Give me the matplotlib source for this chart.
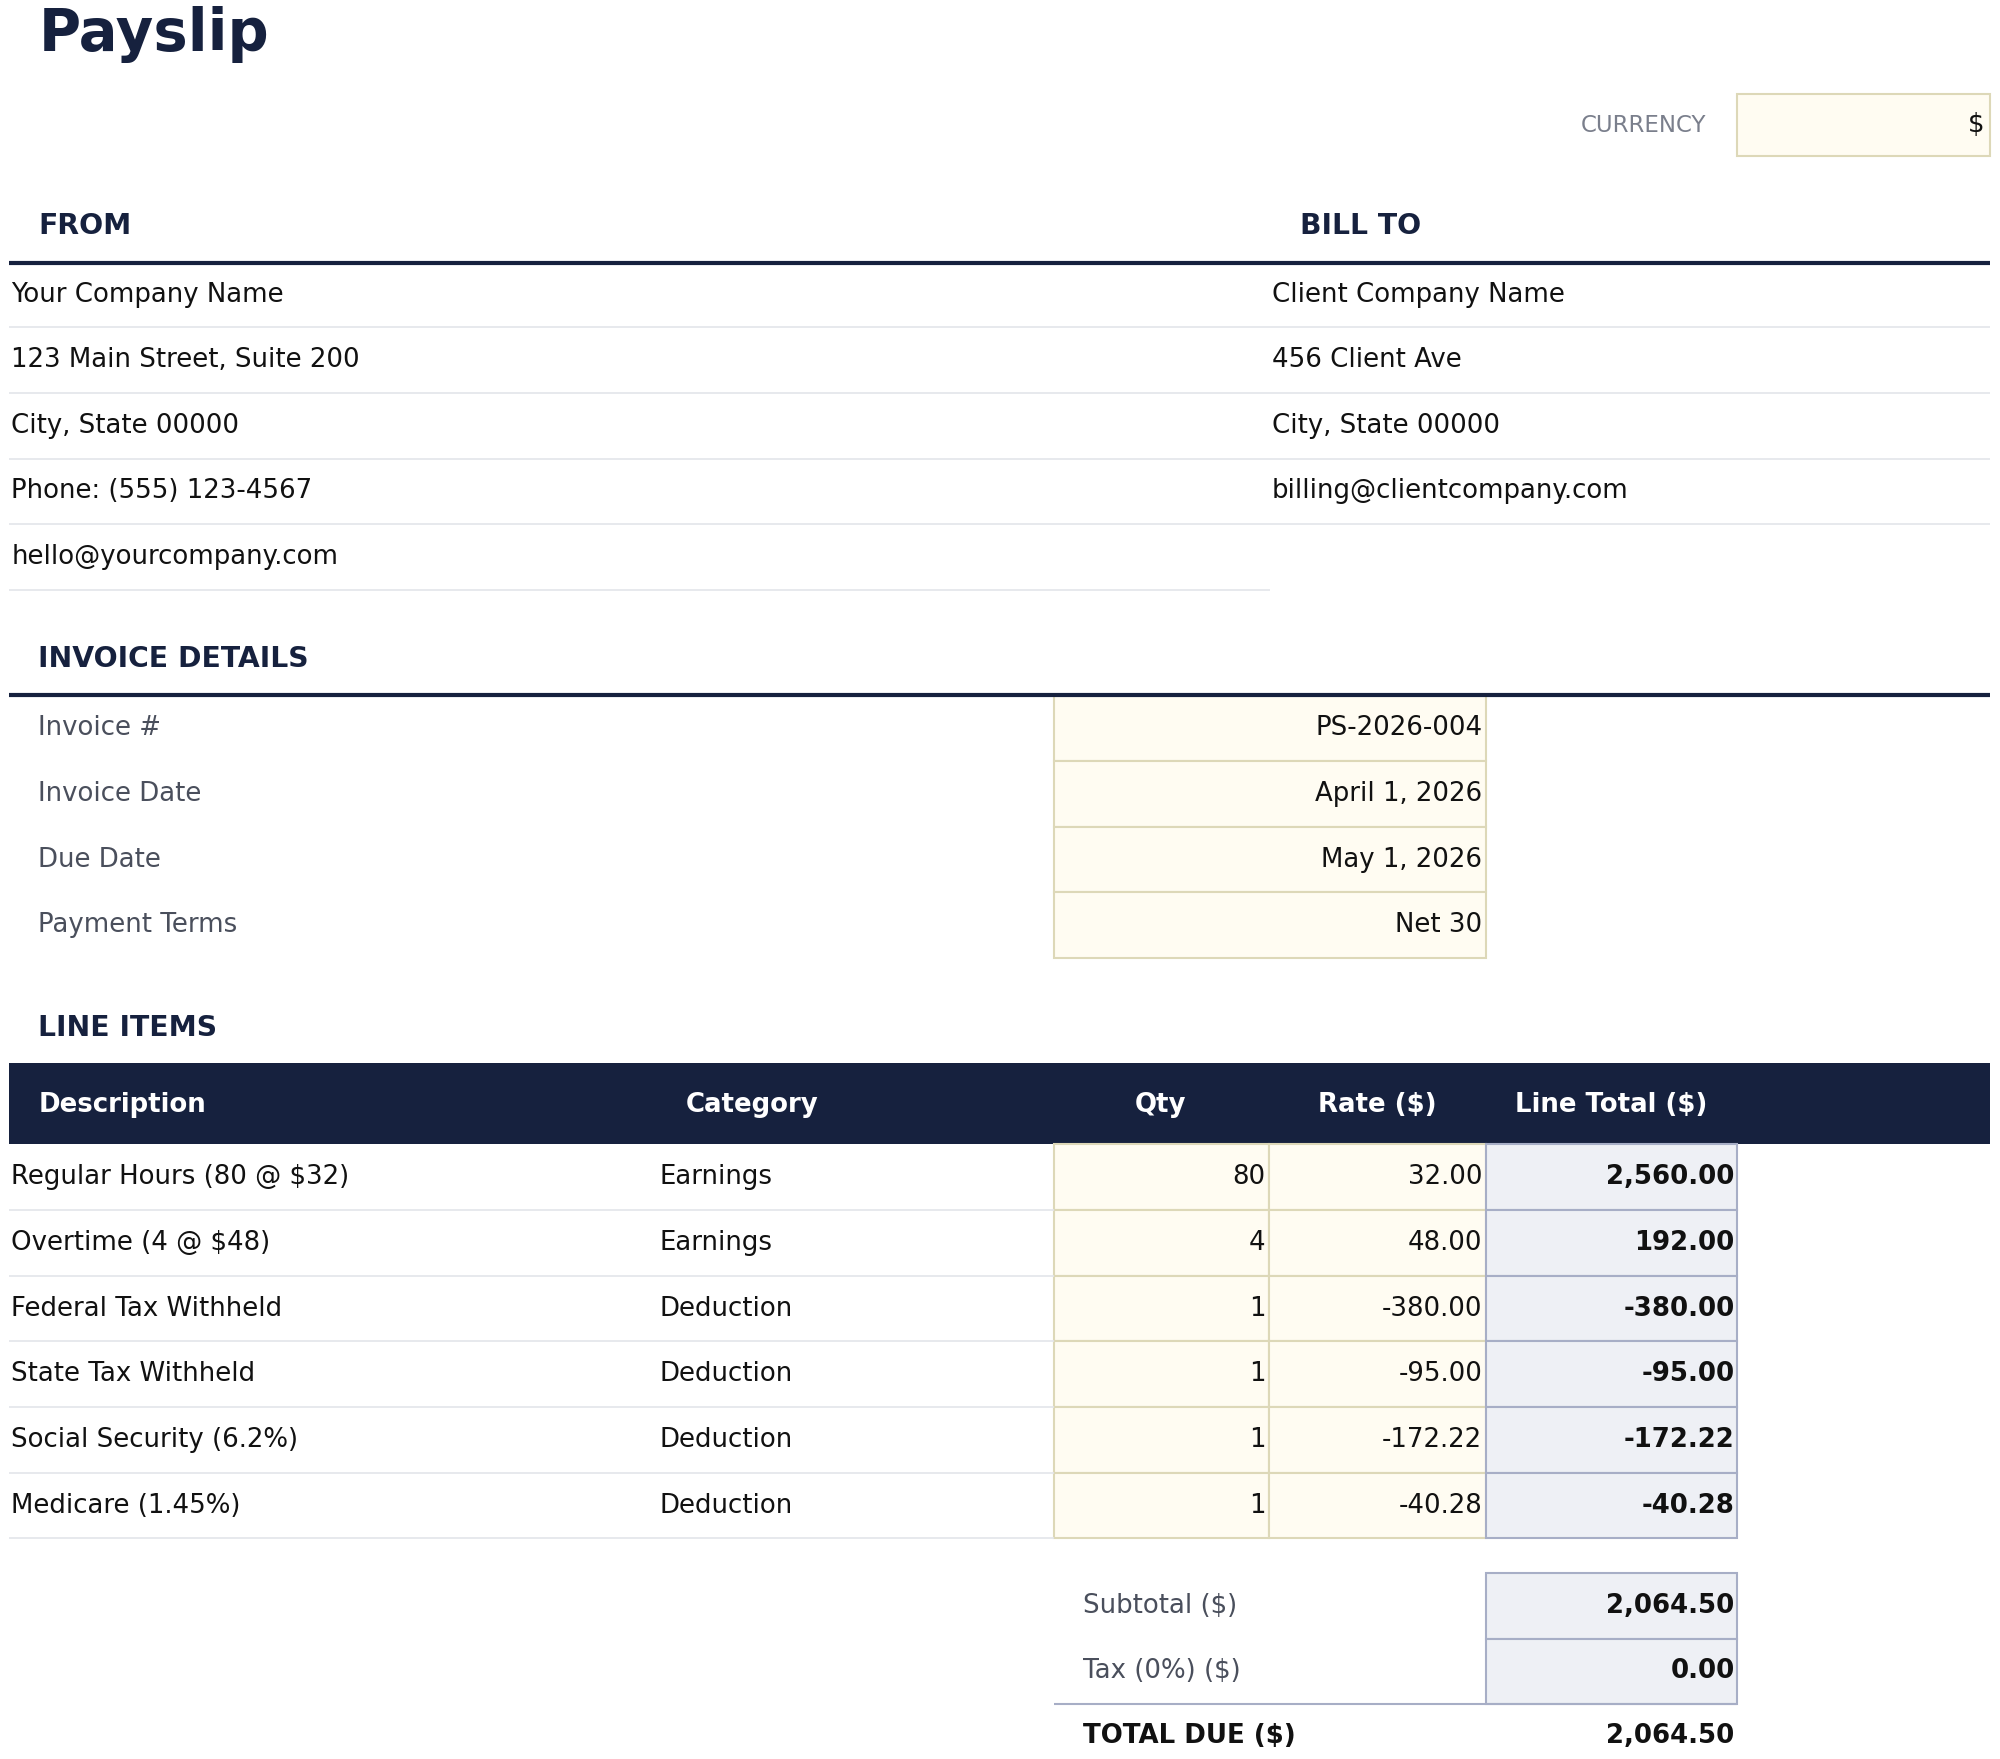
import matplotlib
matplotlib.use('Agg')
import matplotlib.pyplot as plt
from matplotlib.patches import Rectangle

# data
from_lines = ["Your Company Name", "123 Main Street, Suite 200", "City, State 00000",
              "Phone: (555) 123-4567", "hello@yourcompany.com"]
bill_lines = ["Client Company Name", "456 Client Ave", "City, State 00000",
              "billing@clientcompany.com"]
detail_labels = ["Invoice #", "Invoice Date", "Due Date", "Payment Terms"]
detail_values = ["PS-2026-004", "April 1, 2026", "May 1, 2026", "Net 30"]
col_headers = ["Description", "Category", "Qty", "Rate ($)", "Line Total ($)"]
descriptions = ["Regular Hours (80 @ $32)", "Overtime (4 @ $48)", "Federal Tax Withheld",
                "State Tax Withheld", "Social Security (6.2%)", "Medicare (1.45%)"]
categories = ["Earnings", "Earnings", "Deduction", "Deduction", "Deduction", "Deduction"]
qtys = [80, 4, 1, 1, 1, 1]
rates = [32.00, 48.00, -380.00, -95.00, -172.22, -40.28]
tax_rate = 0.0

NAVY = '#16213e'
GRAY = '#4a4f5c'
LINE = '#e3e5ea'
CREAM = '#fffcf2'
CREAM_E = '#ddd8b8'
BLUE = '#eef0f5'
BLUE_E = '#a7aec6'

S = 2000 / 1568.0
fig = plt.figure(figsize=(20, 17.59), dpi=100)
ax = fig.add_axes([0, 0, 1, 1])
ax.set_xlim(0, 1568)
ax.set_ylim(1759 / S, 0)
ax.axis('off')
FS = 18.7
HS = 20.3


def txt(x, y, s, ha='left', color='#111', bold=False, size=FS):
    ax.text(x, y, s, ha=ha, va='center', color=color, fontsize=size,
            fontweight='bold' if bold else 'normal')


def hline(x0, x1, y, color=LINE, lw=1.2):
    ax.plot([x0, x1], [y, y], color=color, lw=lw, solid_capstyle='butt')


def box(x0, y0, x1, y1, fc, ec):
    ax.add_patch(Rectangle((x0, y0), x1 - x0, y1 - y0, facecolor=fc, edgecolor=ec, lw=1.5))


txt(30, 27, "Payslip", color=NAVY, bold=True, size=41.5)
txt(1338, 98, "CURRENCY", ha='right', color='#7a7f8c', size=16.5)
box(1362, 74, 1560, 122, CREAM, CREAM_E)
txt(1556, 98, "$", ha='right')

# FROM / BILL TO
txt(30, 177, "FROM", color=NAVY, bold=True, size=HS)
txt(1019, 177, "BILL TO", color=NAVY, bold=True, size=HS)
hline(7, 1560, 206, NAVY, 3)
for i, s in enumerate(from_lines):
    y = 231 + i * 51.4
    txt(9, y, s)
    hline(7, 996, y + 25.7)
for i, s in enumerate(bill_lines):
    y = 231 + i * 51.4
    txt(997, y, s)
    hline(996, 1560, y + 25.7)

# invoice details
txt(30, 517, "INVOICE DETAILS", color=NAVY, bold=True, size=HS)
for i, (lab, val) in enumerate(zip(detail_labels, detail_values)):
    y0 = 545 + i * 51.5
    box(826, y0, 1165, y0 + 51.5, CREAM, CREAM_E)
    txt(30, y0 + 26, lab, color=GRAY)
    txt(1162, y0 + 26, val, ha='right')
hline(7, 1560, 545, NAVY, 3)

# line items
txt(30, 806, "LINE ITEMS", color=NAVY, bold=True, size=HS)
ax.add_patch(Rectangle((7, 833), 1553, 64, facecolor=NAVY, edgecolor='none'))
hx = [(30, 'left'), (538, 'left'), (910, 'center'), (1080, 'center'), (1263, 'center')]
for (x, ha), h in zip(hx, col_headers):
    txt(x, 866, h, ha=ha, color='white', bold=True)
totals = []
for i in range(len(descriptions)):
    y0 = 897 + i * 51.5
    yc = y0 + 26
    total = qtys[i] * rates[i]
    totals.append(total)
    hline(7, 826, y0 + 51.5)
    box(826, y0, 995, y0 + 51.5, CREAM, CREAM_E)
    box(995, y0, 1165, y0 + 51.5, CREAM, CREAM_E)
    box(1165, y0, 1362, y0 + 51.5, BLUE, BLUE_E)
    txt(9, yc, descriptions[i])
    txt(517, yc, categories[i])
    txt(992, yc, f"{qtys[i]}", ha='right')
    txt(1162, yc, f"{rates[i]:,.2f}", ha='right')
    txt(1360, yc, f"{total:,.2f}", ha='right', bold=True)

subtotal = sum(totals)
tax = subtotal * tax_rate
box(1165, 1233, 1362, 1285, BLUE, BLUE_E)
box(1165, 1285, 1362, 1336, BLUE, BLUE_E)
txt(849, 1259, "Subtotal ($)", color=GRAY)
txt(1360, 1259, f"{subtotal:,.2f}", ha='right', bold=True)
txt(849, 1310, "Tax (0%) ($)", color=GRAY)
txt(1360, 1310, f"{tax:,.2f}", ha='right', bold=True)
hline(826, 1362, 1336, BLUE_E, 1.5)
txt(849, 1361, "TOTAL DUE ($)", bold=True)
txt(1360, 1361, f"{subtotal + tax:,.2f}", ha='right', bold=True)

fig.savefig('out.png', dpi=100, facecolor='white')
